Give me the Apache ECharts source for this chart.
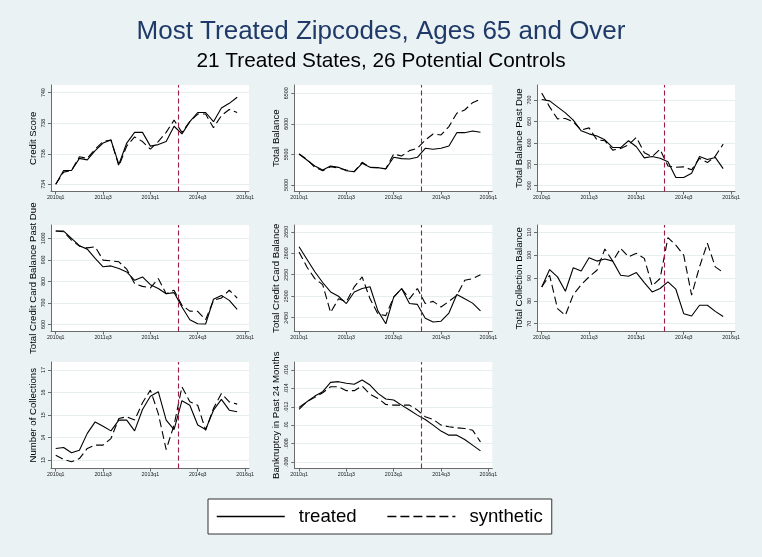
<!DOCTYPE html>
<html>
<head>
<meta charset="utf-8">
<script src="https://cdn.jsdelivr.net/npm/echarts@6/dist/echarts.min.js"></script>
<style>
html,body{margin:0;padding:0;background:#EAF2F3;}
#chart{width:762px;height:557px;}
</style>
</head>
<body>
<div id="chart"></div>
<script>
// ---- data ----
const quarterTicks = [0, 6, 12, 18, 24];
const quarterTickLabels = ['2010q1', '2011q3', '2013q1', '2014q3', '2016q1'];
const treatmentQuarter = 15.5;

const creditScoreTreated = [734.0, 734.9, 734.9, 735.7, 735.6, 736.2, 736.7, 736.9, 735.3, 736.7, 737.4, 737.4, 736.5, 736.6, 736.8, 737.8, 737.3, 738.1, 738.7, 738.7, 738.1, 739.0, 739.3, 739.7];
const creditScoreSynthetic = [734.0, 734.8, 734.9, 735.8, 735.7, 736.3, 736.8, 736.9, 735.2, 736.5, 737.1, 736.8, 736.3, 736.8, 737.4, 738.2, 737.4, 738.1, 738.6, 738.6, 737.7, 738.5, 738.9, 738.7];
const creditScoreTicks = [734, 736, 738, 740];

const totalBalanceTreated = [5507, 5409, 5311, 5245, 5311, 5289, 5234, 5218, 5354, 5289, 5284, 5262, 5453, 5431, 5425, 5453, 5600, 5584, 5600, 5638, 5856, 5856, 5884, 5862];
const totalBalanceSynthetic = [5507, 5420, 5289, 5234, 5300, 5278, 5245, 5218, 5371, 5289, 5284, 5267, 5507, 5474, 5562, 5600, 5736, 5834, 5818, 5955, 6173, 6227, 6347, 6402];
const totalBalanceTicks = [5000, 5500, 6000, 6500];

const pastDueTreated = [701, 698, 684, 670, 653, 628, 621, 616, 607, 589, 589, 605, 591, 565, 568, 564, 556, 519, 519, 529, 568, 561, 566, 540];
const pastDueSynthetic = [716, 684, 656, 657, 649, 630, 635, 607, 605, 583, 587, 595, 613, 577, 568, 585, 546, 543, 544, 537, 564, 554, 569, 597];
const pastDueTicks = [500, 550, 600, 650, 700];

const ccPastDueTreated = [1034, 1034, 1000, 966, 950, 907, 868, 872, 860, 844, 805, 821, 785, 767, 743, 748, 681, 622, 603, 602, 717, 735, 712, 670];
const ccPastDueSynthetic = [1034, 1031, 992, 964, 956, 961, 899, 896, 891, 857, 790, 777, 770, 813, 743, 759, 689, 662, 661, 622, 712, 723, 759, 723];
const ccPastDueTicks = [600, 700, 800, 900, 1000];

const ccBalanceTreated = [2615, 2586, 2557, 2532, 2510, 2500, 2483, 2510, 2518, 2522, 2466, 2436, 2498, 2518, 2483, 2481, 2449, 2440, 2442, 2461, 2504, 2494, 2484, 2466];
const ccBalanceSynthetic = [2603, 2568, 2541, 2527, 2462, 2494, 2487, 2522, 2545, 2494, 2459, 2455, 2498, 2518, 2494, 2518, 2483, 2488, 2475, 2488, 2502, 2537, 2541, 2550];
const ccBalanceTicks = [2450, 2500, 2550, 2600, 2650];

const collectionBalTreated = [86.1, 93.7, 90.5, 84.2, 94.5, 93.1, 98.9, 97.4, 98.3, 97.4, 91.2, 90.8, 92.4, 88.0, 83.9, 85.4, 88.3, 85.1, 74.4, 73.4, 78.1, 78.1, 75.4, 73.2];
const collectionBalSynthetic = [86.1, 91.2, 76.6, 73.7, 82.7, 87.1, 90.5, 93.4, 102.7, 97.4, 103.0, 99.3, 100.8, 98.6, 86.6, 89.8, 107.7, 104.4, 100.0, 82.5, 94.9, 105.2, 94.9, 92.4];
const collectionBalTicks = [70, 80, 90, 100, 110];

const numCollectionsTreated = [13.52, 13.56, 13.33, 13.44, 14.19, 14.70, 14.51, 14.30, 14.78, 14.78, 14.30, 15.25, 15.84, 16.04, 14.78, 14.36, 15.64, 15.44, 14.56, 14.36, 15.22, 15.70, 15.22, 15.15];
const numCollectionsSynthetic = [13.22, 13.03, 12.93, 13.07, 13.52, 13.67, 13.67, 13.96, 14.85, 14.93, 14.78, 15.55, 16.11, 15.07, 13.47, 14.56, 16.26, 15.59, 15.44, 14.33, 15.30, 15.96, 15.59, 15.49];
const numCollectionsTicks = [13, 14, 15, 16, 17];

const bankruptcyTreated = [0.01171, 0.01255, 0.01316, 0.01364, 0.01465, 0.01473, 0.01455, 0.01444, 0.01491, 0.01436, 0.01345, 0.01284, 0.01273, 0.01218, 0.01164, 0.01109, 0.01062, 0.01000, 0.00935, 0.00891, 0.00891, 0.00844, 0.00782, 0.00720];
const bankruptcySynthetic = [0.01193, 0.01255, 0.01302, 0.01353, 0.01418, 0.01418, 0.01375, 0.01375, 0.01425, 0.01335, 0.01291, 0.01225, 0.01218, 0.01218, 0.01218, 0.01164, 0.01091, 0.01062, 0.01000, 0.00982, 0.00971, 0.00964, 0.00945, 0.00818];
const bankruptcyTicks = [0.006, 0.008, 0.010, 0.012, 0.014, 0.016];

// ---- panels ----
const panels = [
  {title: 'Credit Score', t: creditScoreTreated, s: creditScoreSynthetic, ticks: creditScoreTicks, min: 733.53, max: 740.5, fmt: v => String(v)},
  {title: 'Total Balance', t: totalBalanceTreated, s: totalBalanceSynthetic, ticks: totalBalanceTicks, min: 4893.7, max: 6635.8, fmt: v => String(v)},
  {title: 'Total Balance Past Due', t: pastDueTreated, s: pastDueSynthetic, ticks: pastDueTicks, min: 486.5, max: 735, fmt: v => String(v)},
  {title: 'Total Credit Card Balance Past Due', t: ccPastDueTreated, s: ccPastDueSynthetic, ticks: ccPastDueTicks, min: 567.3, max: 1062.1, fmt: v => String(v)},
  {title: 'Total Credit Card Balance', t: ccBalanceTreated, s: ccBalanceSynthetic, ticks: ccBalanceTicks, min: 2418, max: 2665.7, fmt: v => String(v)},
  {title: 'Total Collection Balance', t: collectionBalTreated, s: collectionBalSynthetic, ticks: collectionBalTicks, min: 66.6, max: 113.2, fmt: v => String(v)},
  {title: 'Number of Collections', t: numCollectionsTreated, s: numCollectionsSynthetic, ticks: numCollectionsTicks, min: 12.63, max: 17.36, fmt: v => String(v)},
  {title: 'Bankruptcy in Past 24 Months', t: bankruptcyTreated, s: bankruptcySynthetic, ticks: bankruptcyTicks, min: 0.00528, max: 0.01687,
    fmt: v => String(+v.toFixed(3)).replace(/^0\./, '.')}
];

const colLeft = [51, 294.3, 537];
const rowTop = [85, 225, 362];
const plotW = 198;
const plotH = 106.5;
const FONT = 'Liberation Sans, Arial, sans-serif';

const grids = [], xAxes = [], yAxes = [], series = [];
panels.forEach((p, k) => {
  const col = k % 3, row = Math.floor(k / 3);
  grids.push({left: colLeft[col], top: rowTop[row], width: plotW, height: plotH,
    show: true, backgroundColor: '#ffffff', borderWidth: 0});
  xAxes.push({
    type: 'value', gridIndex: k, min: -0.6, max: 24.5,
    axisLine: {show: true, onZero: false, lineStyle: {color: '#6b6b6b', width: 1}},
    axisTick: {show: true, length: 3, customValues: quarterTicks, lineStyle: {color: '#6b6b6b'}},
    axisLabel: {show: true, customValues: quarterTicks, margin: 4, fontSize: 5.3, color: '#222', fontFamily: FONT,
      formatter: v => quarterTickLabels[quarterTicks.indexOf(Math.round(v))] || ''},
    splitLine: {show: false}
  });
  yAxes.push({
    type: 'value', gridIndex: k, min: p.min, max: p.max,
    name: p.title, nameLocation: 'middle', nameGap: 13, nameRotate: 90,
    nameTextStyle: {fontSize: 9.6, color: '#000', fontFamily: FONT},
    axisLine: {show: true, onZero: false, lineStyle: {color: '#6b6b6b', width: 1}},
    axisTick: {show: true, length: 3, customValues: p.ticks, lineStyle: {color: '#6b6b6b'}},
    axisLabel: {show: true, customValues: p.ticks, rotate: 90, margin: 5, fontSize: 5.3, color: '#222', fontFamily: FONT,
      formatter: p.fmt},
    splitLine: {show: true, lineStyle: {color: '#e6eef0', width: 1}}
  });
  series.push({
    name: 'treated', type: 'line', xAxisIndex: k, yAxisIndex: k,
    data: p.t.map((v, i) => [i, v]), symbol: 'none', z: 4,
    lineStyle: {color: '#000', width: 1.1, type: 'solid'}, itemStyle: {color: '#000'},
    markLine: {silent: true, symbol: 'none', label: {show: false}, animation: false,
      lineStyle: {color: '#9b1b45', width: 1.1, type: [5, 3]},
      data: [{xAxis: treatmentQuarter}]}
  });
  series.push({
    name: 'synthetic', type: 'line', xAxisIndex: k, yAxisIndex: k,
    data: p.s.map((v, i) => [i, v]), symbol: 'none', z: 3,
    lineStyle: {color: '#000', width: 1.1, type: [8, 4]}, itemStyle: {color: '#000'}
  });
});

const chart = echarts.init(document.getElementById('chart'), null, {renderer: 'canvas'});
chart.setOption({
  backgroundColor: '#EAF2F3',
  animation: false,
  title: [
    {text: 'Most Treated Zipcodes, Ages 65 and Over', left: 'center', top: 19, padding: 0,
      textStyle: {fontSize: 26, fontWeight: 'normal', color: '#1f3a68', fontFamily: FONT}},
    {text: '21 Treated States, 26 Potential Controls', left: 'center', top: 50.5, padding: 0,
      textStyle: {fontSize: 20.8, fontWeight: 'normal', color: '#000', fontFamily: FONT}}
  ],
  legend: {
    data: [
      {name: 'treated', lineStyle: {type: 'solid'}},
      {name: 'synthetic', lineStyle: {type: [9, 4]}}
    ],
    left: 208, top: 499,
    padding: [8, 9, 8, 8], itemGap: 30, itemWidth: 68, itemHeight: 2,
    backgroundColor: '#fff', borderColor: '#333', borderWidth: 1,
    lineStyle: {width: 1.5},
    itemStyle: {opacity: 0},
    textStyle: {fontSize: 18.6, color: '#000', fontFamily: FONT, padding: [0, 0, 0, 9]},
    selectedMode: false
  },
  grid: grids, xAxis: xAxes, yAxis: yAxes, series: series
});
</script>
</body>
</html>
